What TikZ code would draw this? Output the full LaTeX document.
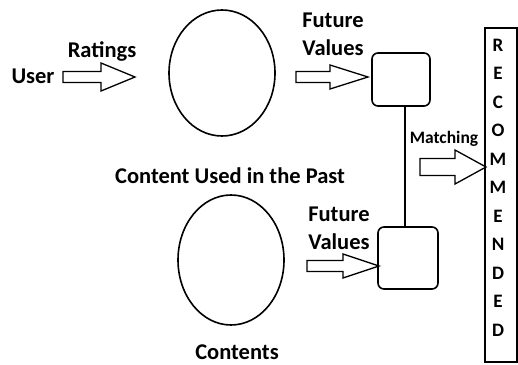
\documentclass[tikz,border=0pt]{standalone}
\usepackage{fontspec}
\setmainfont{Carlito}
\begin{document}
\begin{tikzpicture}[x=1pt,y=-1pt,
  lbl/.style={font=\bfseries\fontsize{22.5}{28}\selectfont, inner sep=0pt, align=center},
  ltr/.style={font=\bfseries\fontsize{19}{22}\selectfont, inner sep=0pt},
  sml/.style={font=\bfseries\fontsize{17.5}{20}\selectfont, inner sep=0pt},
  shp/.style={draw, line width=1.6pt},
  rbox/.style={draw, line width=1.6pt, rounded corners=6pt},
  barrow/.style={draw, line width=1.3pt, line join=miter}]
\useasboundingbox (0,0) rectangle (518,364);
% block arrow macro
\newcommand{\blkarrow}[6]{% x1, x2, y, headx, shaft half, head half
  \draw[barrow] (#1,#3-#5) -- (#4,#3-#5) -- (#4,#3-#6) -- (#2,#3) -- (#4,#3+#6) -- (#4,#3+#5) -- (#1,#3+#5) -- cycle;}
% texts
\node[lbl] (user) at (33,76) {User};
\node[lbl] (ratings) at (102,51) {Ratings};
\node[lbl] (past) at (230,176) {Content Used in the Past};
\node[lbl] (contents) at (237,352) {Contents};
\node[lbl] (fv1) at (333,34) {Future\\Values};
\node[lbl] (fv2) at (339,228) {Future\\Values};
\node[sml] (match) at (444,139) {Matching};
% ellipses
\draw[shp] (222,73) ellipse [x radius=53, y radius=63];
\draw[shp] (231,260) ellipse [x radius=53, y radius=65];
% boxes
\node[rbox, minimum width=58pt, minimum height=53pt] (b1) at (401,79.5) {};
\node[rbox, minimum width=60pt, minimum height=62pt] (b2) at (408,258) {};
\draw[line width=1.6pt] (b1.south -| 405,0) -- (b2.north -| 405,0);
% recommended box
\node[draw, line width=1.6pt, minimum width=32pt, minimum height=334pt, inner sep=0pt] (rec) at (501,195) {};
\foreach \l [count=\i from 0] in {R,E,C,O,M,M,E,N,D,E,D}
  \node[ltr] (l\i) at (498,45+28.5*\i) {\l};
% block arrows
\blkarrow{63}{135}{77}{101}{5.5}{14}
\blkarrow{296}{368}{77}{330}{5.5}{12}
\blkarrow{307}{379}{266}{343}{5.5}{12}
\blkarrow{420}{486}{167}{455}{8.5}{17}
\end{tikzpicture}
\end{document}
